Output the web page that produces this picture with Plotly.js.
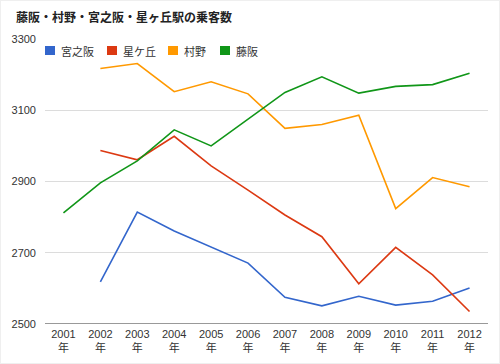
<!DOCTYPE html>
<html><head><meta charset="utf-8">
<script src="https://cdn.plot.ly/plotly-3.0.1.min.js"></script>
<style>html,body{margin:0;padding:0;background:#fff}#c{width:500px;height:364px;position:relative}#f{position:absolute;left:0;top:0;width:498px;height:362px;border:1px solid #efefef;pointer-events:none}</style>
</head><body><div id="c"></div><div id="f"></div>
<script>
const years = ["2001","2002","2003","2004","2005","2006","2007","2008","2009","2010","2011","2012"];
const tickLabels = years.map(y => y + "<br>年");
const names = ["宮之阪","星ケ丘","村野","藤阪"];
const miyanosaka = [null,2618,2814,2761,2717,2671,2575,2551,2578,2553,2564,2601];
const hoshigaoka = [null,2987,2961,3027,2944,2876,2806,2745,2613,2715,2638,2535];
const murano = [null,3217,3231,3152,3180,3146,3049,3060,3086,2824,2911,2885];
const fujisaka = [2812,2896,2958,3045,3000,3075,3150,3194,3148,3167,3172,3204];
const colors = ["#3366cc","#dc3912","#ff9900","#109618"];
const series = [miyanosaka, hoshigaoka, murano, fujisaka];
const font = "Liberation Sans, Arial, Noto Sans CJK JP, sans-serif";
const jp = "Noto Sans CJK JP, sans-serif";

// plot-area geometry (pixels)
const W = 500, H = 364, L = 45, R = 12, T = 39, B = 40;
const pw = W - L - R, ph = H - T - B;
const px = x => (x - L) / pw;
const py = y => 1 - (y - T) / ph;
// legend item left edges (pixels)
const legendX = [45, 107, 168, 220];
const legendY = 46;

const traces = series.map((s,i)=>({x: years, y: s, type:"scatter", mode:"lines", name:names[i],
    line:{color:colors[i], width:1.6}, showlegend:false}));

const shapes = [{type:"line", xref:"paper", yref:"y", x0:0, x1:1, y0:2500, y1:2500,
    line:{color:"#999", width:2}}];
const annotations = [];
names.forEach((n,i)=>{
  shapes.push({type:"rect", xref:"paper", yref:"paper",
    x0:px(legendX[i]), x1:px(legendX[i]+10), y0:py(legendY+9), y1:py(legendY),
    fillcolor:colors[i], line:{width:0}});
  annotations.push({xref:"paper", yref:"paper", x:px(legendX[i]+14), y:py(legendY+4.5),
    xanchor:"left", yanchor:"middle", text:n, showarrow:false,
    font:{family:jp, size:11, color:"#333"}});
});

const layout = {
  width:W, height:H,
  margin:{l:L, r:R, t:T, b:B},
  paper_bgcolor:"#fff", plot_bgcolor:"#fff",
  font:{family:font, size:11, color:"#444"},
  title:{text:"<b>藤阪・村野・宮之阪・星ヶ丘駅の乗客数</b>", xref:"container", yref:"container",
    x:16/500, xanchor:"left", y:1-18/364, yanchor:"middle",
    font:{family:jp, size:12, color:"#222"}},
  xaxis:{type:"category", tickvals:years, ticktext:tickLabels, range:[-0.5,11.5],
    showgrid:false, zeroline:false, showline:false, ticks:"", fixedrange:true,
    ticklabelstandoff:2, tickfont:{size:11, color:"#333"}},
  yaxis:{range:[2500,3300], tickvals:[2500,2700,2900,3100,3300], showgrid:true,
    gridcolor:"#dcdcdc", gridwidth:1, zeroline:false, showline:false, ticks:"",
    ticklabelstandoff:8, tickfont:{size:11, color:"#333"}},
  shapes: shapes,
  annotations: annotations,
  showlegend:false
};
Plotly.newPlot("c", traces, layout, {displayModeBar:false, staticPlot:true});
</script></body></html>
